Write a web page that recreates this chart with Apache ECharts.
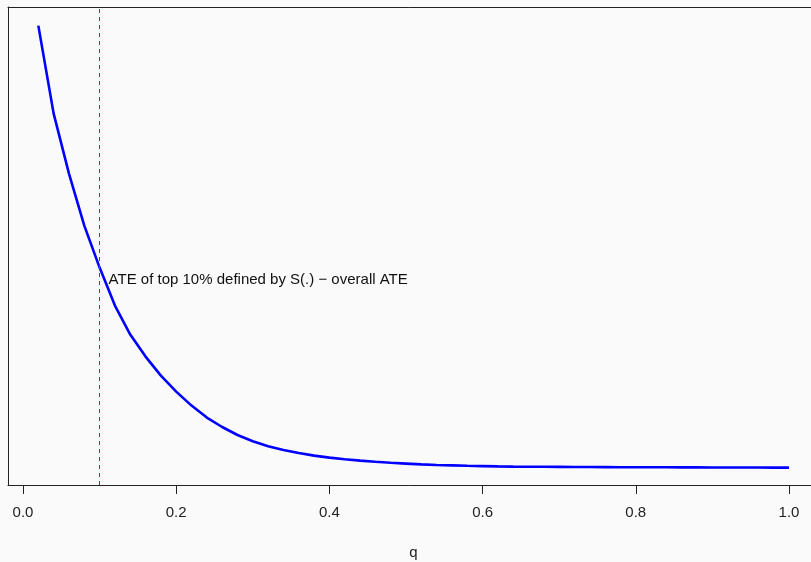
<!DOCTYPE html>
<html>
<head>
<meta charset="utf-8">
<script src="https://cdn.jsdelivr.net/npm/echarts@6/dist/echarts.min.js"></script>
<style>
html,body{margin:0;padding:0;background:#fafafa;}
#main{width:811px;height:562px;}
</style>
</head>
<body>
<div id="main"></div>
<script>
// q grid (share of top units) and ATE difference
var qValues = [0.02,0.04,0.06,0.08,0.10,0.12,0.14,0.16,0.18,0.20,
	0.22,0.24,0.26,0.28,0.30,0.32,0.34,0.36,0.38,0.40,
	0.42,0.44,0.46,0.48,0.50,0.52,0.54,0.56,0.58,0.60,
	0.62,0.64,0.66,0.68,0.70,0.72,0.74,0.76,0.78,0.80,
	0.82,0.84,0.86,0.88,0.90,0.92,0.94,0.96,0.98,1.00];
var ateDiff = [2.21,1.77,1.47,1.21,1.00,0.81,0.665,0.555,0.46,0.38,
	0.31,0.25,0.203,0.163,0.132,0.107,0.088,0.073,0.060,0.050,
	0.042,0.035,0.029,0.024,0.020,0.016,0.013,0.011,0.009,0.0075,
	0.006,0.005,0.0045,0.004,0.0035,0.003,0.0027,0.0024,0.0021,0.0018,
	0.0016,0.0014,0.0012,0.001,0.0008,0.0006,0.0004,0.0003,0.0001,0];
var xTicks = [0,0.2,0.4,0.6,0.8,1.0];
var cutoff = 0.1;
var noteText = 'ATE of top 10% defined by S(.) \u2212 overall ATE';
var noteY = 0.94;

var seriesData = [];
for (var i = 0; i < qValues.length; i++) {
	seriesData.push([qValues[i], ateDiff[i]]);
}

var chart = echarts.init(document.getElementById('main'));
var boxLine = {show: true, onZero: false, lineStyle: {color: '#222', width: 1}};
var option = {
	backgroundColor: '#fafafa',
	animation: false,
	textStyle: {fontFamily: 'Liberation Sans, Arial, sans-serif'},
	grid: {left: 8, top: 7, right: -8, bottom: 77, outerBoundsMode: 'none', containLabel: false},
	xAxis: [{
		type: 'value',
		min: -0.0196,
		max: 1.0392,
		name: 'q',
		nameLocation: 'middle',
		nameGap: 60,
		nameTextStyle: {fontSize: 15, color: '#222'},
		axisLine: boxLine,
		axisTick: {show: true, customValues: xTicks, length: 9, lineStyle: {color: '#222'}},
		axisLabel: {customValues: xTicks, margin: 20, fontSize: 15, color: '#222',
			formatter: function (v) { return v.toFixed(1); }},
		splitLine: {show: false}
	}, {
		type: 'value',
		position: 'top',
		min: -0.0196,
		max: 1.0392,
		axisLine: boxLine,
		axisTick: {show: false},
		axisLabel: {show: false},
		splitLine: {show: false}
	}],
	yAxis: {
		type: 'value',
		min: -0.087,
		max: 2.303,
		axisLine: boxLine,
		axisTick: {show: false},
		axisLabel: {show: false},
		splitLine: {show: false}
	},
	series: [{
		type: 'line',
		xAxisIndex: 0,
		data: seriesData,
		showSymbol: false,
		symbol: 'none',
		lineStyle: {color: '#0000ff', width: 2.6},
		markLine: {
			silent: true,
			symbol: ['none', 'none'],
			label: {show: false},
			lineStyle: {color: '#ff0000', type: [4, 4], width: 1},
			data: [{xAxis: cutoff}]
		},
		markPoint: {
			silent: true,
			symbol: 'circle',
			symbolSize: 0,
			label: {
				show: true,
				position: 'right',
				distance: 9,
				formatter: noteText,
				fontSize: 15,
				color: '#111'
			},
			data: [{coord: [cutoff, noteY]}]
		}
	}]
};
chart.setOption(option);
</script>
</body>
</html>
